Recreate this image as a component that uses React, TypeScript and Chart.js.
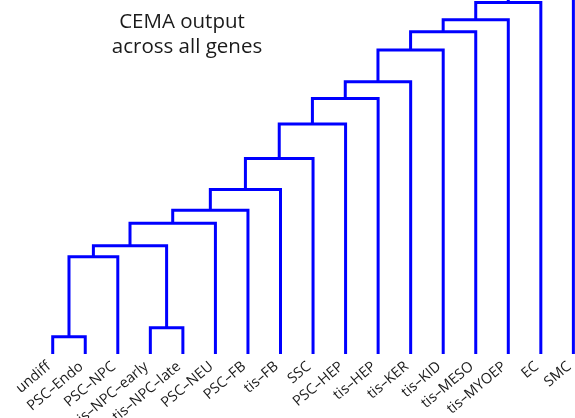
import { useEffect, useRef } from "react";
import { Chart, registerables } from "chart.js";

Chart.register(...registerables);

// Leaves of the dendrogram, left to right
const leafLabels = [
  "undiff",
  "PSC–Endo",
  "PSC–NPC",
  "tis–NPC–early",
  "tis–NPC–late",
  "PSC–NEU",
  "PSC–FB",
  "tis–FB",
  "SSC",
  "PSC–HEP",
  "tis–HEP",
  "tis–KER",
  "tis–KID",
  "tis–MESO",
  "tis–MYOEP",
  "EC",
  "SMC",
];

// Linkage: node ids 0..16 are leaves, merge k creates node 17 + k
const mergeLeft = [0, 3, 17, 19, 20, 21, 22, 23, 24, 25, 26, 27, 28, 29, 30, 31];
const mergeRight = [1, 4, 2, 18, 5, 6, 7, 8, 9, 10, 11, 12, 13, 14, 15, 16];
const mergeHeights = [4.9, 7.4, 27.5, 30.6, 36.9, 40.6, 46.5, 55.2, 65.0, 72.2, 76.9, 85.9, 91.0, 94.4, 99.3, 110];

const titleLines = ["CEMA output", "across all genes"];

function buildSegments() {
  const xs: number[] = leafLabels.map((_, i) => i);
  const hs: number[] = leafLabels.map(() => 0);
  const segs: { x: number; y: number }[][] = [];
  mergeHeights.forEach((h, k) => {
    const a = mergeLeft[k];
    const b = mergeRight[k];
    segs.push([
      { x: xs[a], y: hs[a] },
      { x: xs[a], y: h },
      { x: xs[b], y: h },
      { x: xs[b], y: hs[b] },
    ]);
    xs.push((xs[a] + xs[b]) / 2);
    hs.push(h);
  });
  return segs;
}

const titlePlugin = {
  id: "dendroTitle",
  afterDraw(chart: any) {
    const ctx = chart.ctx;
    ctx.save();
    ctx.font = '20.5px "Open Sans"';
    ctx.fillStyle = "#1a1a1a";
    ctx.textAlign = "center";
    ctx.textBaseline = "alphabetic";
    ctx.fillText(titleLines[0], 182, 28);
    ctx.fillText(titleLines[1], 187, 53);
    ctx.restore();
  },
};

export default function App() {
  const canvasRef = useRef<HTMLCanvasElement | null>(null);

  useEffect(() => {
    const canvas = canvasRef.current;
    if (!canvas) return;
    const segs = buildSegments();
    const chart = new Chart(canvas, {
      type: "scatter",
      data: {
        datasets: segs.map((s) => ({
          data: s,
          showLine: true,
          borderColor: "#0000ff",
          backgroundColor: "#0000ff",
          borderWidth: 3,
          pointRadius: 0,
          pointHoverRadius: 0,
          fill: false,
          tension: 0,
          borderJoinStyle: "miter" as const,
          borderCapStyle: "butt" as const,
        })),
      },
      options: {
        animation: false,
        responsive: false,
        devicePixelRatio: 1,
        layout: { padding: 0 },
        plugins: {
          legend: { display: false },
          tooltip: { enabled: false },
          title: { display: false },
        },
        scales: {
          x: {
            type: "linear",
            min: -1.62,
            max: 16.05,
            grid: { display: false, drawTicks: false },
            border: { display: false },
            afterBuildTicks: (scale: any) => {
              scale.ticks = leafLabels.map((_, i) => ({ value: i }));
            },
            afterFit: (scale: any) => {
              scale.height = 64;
              scale.paddingLeft = 0;
              scale.paddingRight = 0;
            },
            ticks: {
              autoSkip: false,
              minRotation: 40,
              maxRotation: 40,
              padding: 4,
              labelOffset: -4,
              color: "#1a1a1a",
              font: { family: '"Open Sans"', size: 14.5 },
              callback: (v: any) => leafLabels[v as number] ?? "",
            },
          },
          y: {
            display: false,
            min: 0,
            max: 100,
          },
        },
      },
      plugins: [titlePlugin],
    });
    return () => chart.destroy();
  }, []);

  return (
    <div style={{ position: "fixed", left: 0, top: 0, width: 575, height: 418, background: "#fff" }}>
      <canvas ref={canvasRef} width={575} height={418} />
    </div>
  );
}
